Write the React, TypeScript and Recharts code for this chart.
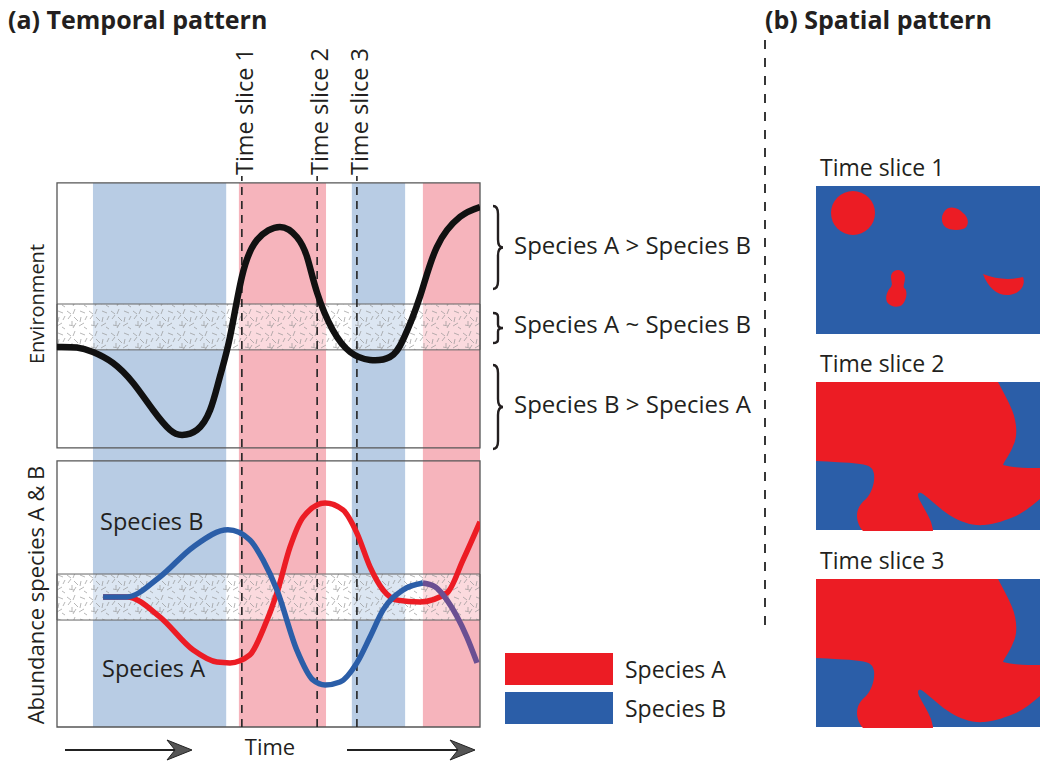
import React from 'react';
import { ComposedChart, Line, XAxis, YAxis, ReferenceArea, ReferenceLine, Legend } from 'recharts';

// time runs 0..100 across the panel, both panels have values 0..100 inside their box
const envTime = [0, 4.7, 8.5, 13.2, 18, 22.7, 26.7, 29.6, 33.1, 36.2, 38.5, 40.9, 43.7, 47.3, 52.7, 56.7, 59.1, 61.5, 65.2, 69.3, 74, 78.7, 81.8, 85.8, 89.8, 95.3, 100];
const envLevel = [38.1, 37.9, 36.2, 32.1, 24.5, 14.3, 6.8, 4.9, 6.8, 14.3, 26.8, 41.9, 64.5, 78.5, 83.4, 79.6, 72.1, 58.5, 44.5, 36.2, 33.2, 34.3, 40.8, 57, 75.8, 87.2, 90.9];

const speciesATime = [10.9, 16.5, 24.3, 32.2, 37.8, 40.9, 45.6, 48.7, 52, 55.1, 58.2, 63.4, 67.6, 70.9, 74, 77.1, 80.4, 85.8, 92.2, 96, 100];
const speciesAValue = [48.9, 48.9, 41.4, 28.9, 24.4, 24.1, 27.1, 36.5, 50.4, 67.7, 78.9, 84.2, 81.6, 72.9, 60.2, 51.5, 47.7, 47, 50.4, 62.8, 77.1];

const speciesBTime = [10.9, 16.5, 24.3, 32.2, 40.4, 45.6, 48.7, 52, 56.7, 60.5, 63.4, 66.9, 70.9, 74, 77.1, 81.8, 86.5];
const speciesBValue = [48.9, 48.9, 56.4, 67.7, 74.1, 70.3, 62.8, 51.5, 28.9, 17.7, 15.8, 16.9, 24.1, 33.8, 44, 51.5, 54.1];

// where B runs into the red period the line turns purple
const mixTime = [86.5, 89.5, 92.2, 96.9, 99.3];
const mixValue = [54.1, 52.6, 47.7, 33.8, 24.1];

const blueBands = [[8.5, 40], [69.7, 82.3]];
const redBands = [[43, 63.6], [86.5, 100]];
const timeSlices = [43.7, 61.5, 70.9];
const sliceLabels = ['Time slice 1', 'Time slice 2', 'Time slice 3'];

const envBand = [37, 54.3];
const abBand = [40.2, 57.5];

const zip = (xs: number[], ys: number[]) => xs.map((t, i) => ({ t, v: ys[i] }));

const RED = '#ec1c24';
const BLUE = '#2b5ea8';
const TEXT = '#231f20';
const FONT = '"Open Sans", sans-serif';

const renderLegend = (props: any) => {
  const items = (props.payload || []).filter((p: any) => p.value === 'Species A' || p.value === 'Species B');
  return (
    <div style={{ fontFamily: FONT }}>
      {items.map((p: any) => (
        <div key={p.value} style={{ display: 'flex', alignItems: 'center', height: 39 }}>
          <div style={{ width: 108, height: 32, background: p.color }} />
          <span style={{ marginLeft: 12, fontSize: 23, color: TEXT }}>{p.value}</span>
        </div>
      ))}
    </div>
  );
};

const brace = (x: number, y1: number, y2: number, w: number) => {
  const m = (y1 + y2) / 2;
  const h = y2 - y1;
  const k = Math.min(8, h * 0.12);
  return `M${x} ${y1} Q${x + w / 2} ${y1} ${x + w / 2} ${y1 + k} L${x + w / 2} ${m - k} Q${x + w / 2} ${m} ${x + w} ${m} Q${x + w / 2} ${m} ${x + w / 2} ${m + k} L${x + w / 2} ${y2 - k} Q${x + w / 2} ${y2} ${x} ${y2}`;
};

const slice1Blobs = [
  'M128 26 C132 19 142 21 147 27 C153 31 154 41 147 43 C139 45 130 44 127 38 C125 33 126 29 128 26 Z',
  'M82 84 C87 84 89 88 89 92 C89 96 87 99 88 102 C92 104 91 114 86 119 C82 122 74 121 71 116 C69 111 71 105 75 101 C77 98 75 95 75 91 C75 87 78 84 82 84 Z',
  'M167 88 Q187 96 207 91 C210 99 204 108 193 109 C182 110 172 102 167 88 Z',
];
const bigBlob =
  'M0 0 L182 0 C186 8 192 18 196 28 C201 40 202 55 197 64 C194 72 189 78 187 83 C197 86 212 86 224 86 L224 117 C216 124 208 130 200 134 C190 138 180 142 168 143 C156 144 145 140 135 134 C125 128 115 118 107 112 C102 109 101 112 103 117 C107 125 112 132 115 140 C116 144 117 147 117 149 L47 149 C44 146 41 140 41 134 C41 127 44 122 50 117 C56 110 59 100 58 92 C57 86 54 83 44 82 C30 80 15 80 0 79 Z';

const SpatialMap = ({ top, label, slice }: { top: number; label: string; slice: number }) => (
  <g transform={`translate(816 ${top})`}>
    <text x={4} y={-10} fontSize={23} fill={TEXT}>{label}</text>
    <rect width={224} height={148} fill={BLUE} />
    {slice === 1 ? (
      <g fill={RED}>
        <circle cx={37} cy={27} r={22} />
        {slice1Blobs.map((d) => <path key={d} d={d} />)}
      </g>
    ) : (
      <path d={bigBlob} fill={RED} />
    )}
  </g>
);

export default function App() {
  return (
    <div style={{ position: 'absolute', left: 0, top: 0, width: 1040, height: 762, fontFamily: FONT, background: '#fff' }}>
      <ComposedChart width={1040} height={762} margin={{ top: 176, right: 560, bottom: 35, left: 57 }}>
        <defs>
          <pattern id="speckle" width="22" height="22" patternUnits="userSpaceOnUse">
            <rect width="22" height="22" fill="#fff" fillOpacity={0.5} />
            <path
              d="M1 3 l4 3 M9 1 l-2 5 M14 3 l5 2 M2 11 l3 -4 M8 9 l4 4 M15 9 l-1 5 M19 12 l2 -4 M3 17 l5 1 M10 15 l-3 5 M13 18 l5 -3 M18 19 l3 2 M6 13 l0 4"
              stroke="#8c8c8c"
              strokeWidth={0.9}
              strokeOpacity={0.7}
              fill="none"
            />
          </pattern>
        </defs>
        <XAxis type="number" dataKey="t" domain={[0, 100]} hide allowDataOverflow />
        {/* both panels share one plot area, the domains place each 0..100 box in its own band */}
        <YAxis yAxisId="env" type="number" dataKey="v" domain={[-105.3, 102.6]} hide allowDataOverflow />
        <YAxis yAxisId="ab" type="number" dataKey="v" domain={[0, 207.1]} hide allowDataOverflow />

        {blueBands.map(([a, b]) => (
          <ReferenceArea key={'b' + a} yAxisId="env" x1={a} x2={b} y1={-105.3} y2={100} fill="#b8cce4" fillOpacity={1} stroke="none" />
        ))}
        {redBands.map(([a, b]) => (
          <ReferenceArea key={'r' + a} yAxisId="env" x1={a} x2={b} y1={-105.3} y2={100} fill="#f6b4bc" fillOpacity={1} stroke="none" />
        ))}

        <ReferenceArea yAxisId="env" x1={0} x2={100} y1={envBand[0]} y2={envBand[1]} fill="url(#speckle)" fillOpacity={1} stroke="#666" strokeWidth={1} />
        <ReferenceArea yAxisId="ab" x1={0} x2={100} y1={abBand[0]} y2={abBand[1]} fill="url(#speckle)" fillOpacity={1} stroke="#666" strokeWidth={1} />
        <ReferenceArea yAxisId="env" x1={0} x2={100} y1={0} y2={100} fill="none" stroke="#555" strokeWidth={1.3} />
        <ReferenceArea yAxisId="ab" x1={0} x2={100} y1={0} y2={100} fill="none" stroke="#555" strokeWidth={1.3} />

        {timeSlices.map((t, i) => (
          <ReferenceLine
            key={t}
            yAxisId="env"
            x={t}
            stroke="#222"
            strokeWidth={1.6}
            strokeDasharray="8 6"
            label={(p: any) => {
              const vb = p.viewBox || {};
              const x = (vb.x ?? 0) + 11;
              const y = (vb.y ?? 0) - 1;
              return (
                <text x={x} y={y} transform={`rotate(-90 ${x} ${y})`} fontSize={23.5} fill={TEXT} fontFamily={FONT}>
                  {sliceLabels[i]}
                </text>
              );
            }}
          />
        ))}

        <Line yAxisId="env" data={zip(envTime, envLevel)} dataKey="v" name="Environment" type="natural" stroke="#111" strokeWidth={6.5} dot={false} legendType="none" isAnimationActive={false} />
        <Line yAxisId="ab" data={zip(speciesATime, speciesAValue)} dataKey="v" name="Species A" type="monotone" stroke={RED} strokeWidth={5.5} dot={false} isAnimationActive={false} />
        <Line yAxisId="ab" data={zip(speciesBTime, speciesBValue)} dataKey="v" name="Species B" type="monotone" stroke={BLUE} strokeWidth={5.5} dot={false} isAnimationActive={false} />
        <Line yAxisId="ab" data={zip(mixTime, mixValue)} dataKey="v" name="Overlap" type="monotone" stroke="#6b4f92" strokeWidth={5.5} dot={false} legendType="none" isAnimationActive={false} />

        <Legend
          layout="horizontal"
          verticalAlign="middle"
          align="center"
          content={renderLegend}
          wrapperStyle={{ left: 505, top: 649, width: 260, height: 80 }}
        />
      </ComposedChart>

      <svg width={1040} height={762} style={{ position: 'absolute', left: 0, top: 0, pointerEvents: 'none' }} fontFamily={FONT}>
        <text x={8} y={29} fontSize={25} fontWeight="bold" fill={TEXT}>(a) Temporal pattern</text>
        <text x={765} y={29} fontSize={25} fontWeight="bold" fill={TEXT}>(b) Spatial pattern</text>

        <text x={44} y={304} transform="rotate(-90 44 304)" textAnchor="middle" fontSize={20} fill={TEXT}>Environment</text>
        <text x={44} y={595} transform="rotate(-90 44 595)" textAnchor="middle" fontSize={22} fill={TEXT}>Abundance species A &amp; B</text>

        <path d={brace(493, 206, 289, 10)} stroke={TEXT} strokeWidth={2.4} fill="none" />
        <path d={brace(493, 313, 343, 10)} stroke={TEXT} strokeWidth={2.4} fill="none" />
        <path d={brace(493, 365, 449, 10)} stroke={TEXT} strokeWidth={2.4} fill="none" />
        <text x={514} y={254} fontSize={24} fill={TEXT}>Species A &gt; Species B</text>
        <text x={514} y={333} fontSize={24} fill={TEXT}>Species A ~ Species B</text>
        <text x={514} y={413} fontSize={24} fill={TEXT}>Species B &gt; Species A</text>

        <text x={100} y={530} fontSize={23.5} fill={TEXT}>Species B</text>
        <text x={102} y={677} fontSize={23.5} fill={TEXT}>Species A</text>

        <line x1={65} y1={750} x2={180} y2={750} stroke="#222" strokeWidth={2} />
        <path d="M192 750 L167 740 L175 750 L167 760 Z" fill="#555" stroke="#222" strokeWidth={1} />
        <text x={270} y={755} textAnchor="middle" fontSize={22} fill={TEXT}>Time</text>
        <line x1={347} y1={750} x2={463} y2={750} stroke="#222" strokeWidth={2} />
        <path d="M475 750 L450 740 L458 750 L450 760 Z" fill="#555" stroke="#222" strokeWidth={1} />

        <line x1={765} y1={40} x2={765} y2={632} stroke="#222" strokeWidth={1.8} strokeDasharray="9 9" />

        <SpatialMap top={186} label="Time slice 1" slice={1} />
        <SpatialMap top={382} label="Time slice 2" slice={2} />
        <SpatialMap top={579} label="Time slice 3" slice={3} />
      </svg>
    </div>
  );
}
